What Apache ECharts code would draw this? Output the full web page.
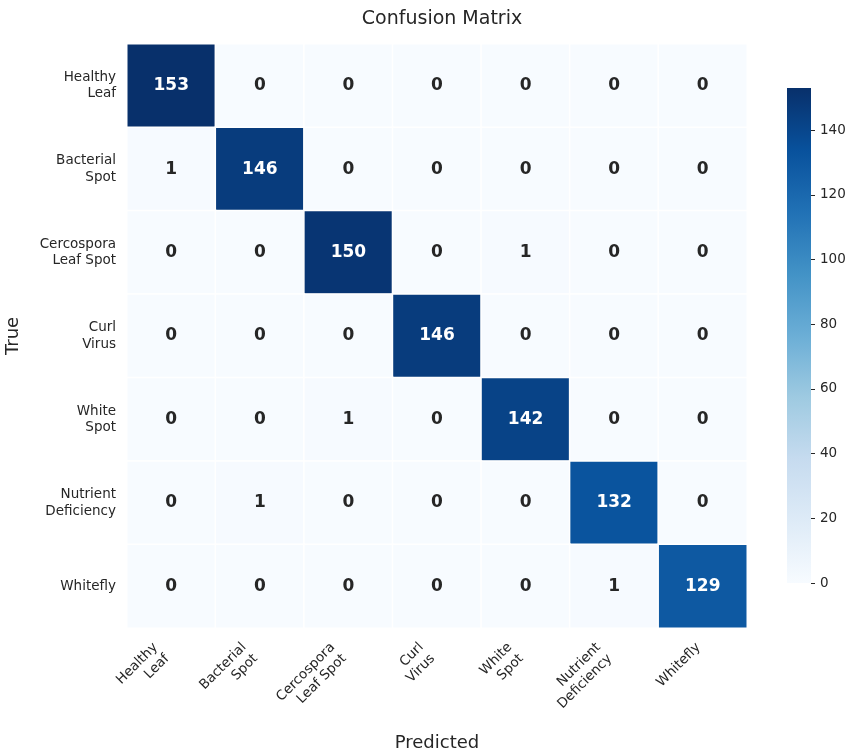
<!DOCTYPE html>
<html>
<head>
<meta charset="utf-8">
<script src="https://cdn.jsdelivr.net/npm/echarts@6/dist/echarts.min.js"></script>
<style>html,body{margin:0;padding:0;background:#fff;}#c{width:855px;height:756px;}</style>
</head>
<body>
<div id="c"></div>
<script>
const categories = ['Healthy\nLeaf','Bacterial\nSpot','Cercospora\nLeaf Spot','Curl\nVirus','White\nSpot','Nutrient\nDeficiency','Whitefly'];
const matrix = [
  [153,0,0,0,0,0,0],
  [1,146,0,0,0,0,0],
  [0,0,150,0,1,0,0],
  [0,0,0,146,0,0,0],
  [0,0,1,0,142,0,0],
  [0,1,0,0,0,132,0],
  [0,0,0,0,0,1,129]
];
const colorMin = 0;
const colorMax = 153;
const colorbarTicks = [0,20,40,60,80,100,120,140];
const blues = ['#f7fbff','#deebf7','#c6dbef','#9ecae1','#6baed6','#4292c6','#2171b5','#08519c','#08306b'];

const FONT = 'DejaVu Sans';
const TXT = '#262626';

const data = [];
matrix.forEach((row, r) => row.forEach((v, c) => {
  data.push({value:[c, r, v], label:{color: v > (colorMax/2) ? '#ffffff' : TXT}});
}));

// rotated x labels: shift multi-line labels back along their baseline (matplotlib ha='right' anchoring)
const xCats = categories.map(c => ({value:c, textStyle:{padding:[0, c.indexOf('\n') >= 0 ? 14 : 6, 0, 0]}}));

const stops = blues.map((col, i) => ({offset: i/(blues.length-1), color: col}));

const chart = echarts.init(document.getElementById('c'), null, {renderer:'canvas'});
chart.setOption({
  backgroundColor:'#ffffff',
  animation:false,
  textStyle:{fontFamily:FONT},
  title:{text:'Confusion Matrix', left:437, top:5, textAlign:'center',
    textStyle:{fontFamily:FONT, fontSize:19, fontWeight:'normal', color:TXT}},
  grid:[
    {left:127, right:108, top:44, bottom:128, containLabel:false, outerBoundsMode:'none'},
    {left:787, width:24, top:88, bottom:173, containLabel:false, outerBoundsMode:'none'}
  ],
  xAxis:[
    {type:'category', gridIndex:0, data:xCats, name:'Predicted', nameLocation:'middle', nameGap:106,
      nameTextStyle:{fontFamily:FONT, fontSize:18, color:TXT},
      axisLine:{show:false}, axisTick:{show:false}, splitLine:{show:false},
      axisLabel:{rotate:45, fontFamily:FONT, fontSize:13.5, color:TXT, margin:13, lineHeight:16, interval:0}},
    {type:'category', gridIndex:1, data:['cb'], show:false}
  ],
  yAxis:[
    {type:'category', gridIndex:0, data:categories, inverse:true, name:'True', nameLocation:'middle', nameGap:105,
      nameTextStyle:{fontFamily:FONT, fontSize:18, color:TXT},
      axisLine:{show:false}, axisTick:{show:false}, splitLine:{show:false},
      axisLabel:{fontFamily:FONT, fontSize:13.5, color:TXT, margin:11, lineHeight:16.5, align:'right', interval:0}},
    {type:'value', gridIndex:1, min:colorMin, max:colorMax, position:'right',
      axisLine:{show:false}, splitLine:{show:false},
      axisTick:{show:true, length:4, customValues:colorbarTicks, lineStyle:{color:TXT}},
      axisLabel:{fontFamily:FONT, fontSize:13.5, color:TXT, margin:9, customValues:colorbarTicks}}
  ],
  visualMap:{show:false, type:'continuous', min:colorMin, max:colorMax, seriesIndex:0, dimension:2,
    inRange:{color:blues}},
  series:[
    {type:'heatmap', xAxisIndex:0, yAxisIndex:0, data:data,
      itemStyle:{borderColor:'#ffffff', borderWidth:1.5},
      label:{show:true, fontFamily:FONT, fontSize:17, fontWeight:'bold',
        formatter:(p)=> String(p.value[2])},
      emphasis:{disabled:true}},
    {type:'bar', xAxisIndex:1, yAxisIndex:1, data:[colorMax], barWidth:'100%', silent:true,
      itemStyle:{color:{type:'linear', x:0, y:1, x2:0, y2:0, colorStops:stops}}}
  ]
});
</script>
</body>
</html>
